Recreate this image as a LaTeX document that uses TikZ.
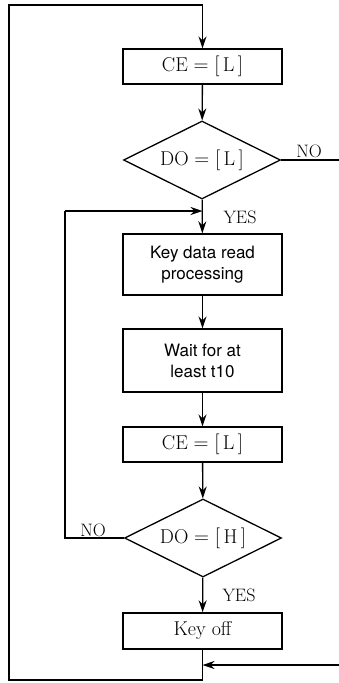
\documentclass[tikz,border=0pt]{standalone}
\usepackage{fontspec}
\usetikzlibrary{shapes.geometric,arrows.meta}
\newfontfamily\helv{TeX Gyre Heros}

\tikzset{
 proc/.style={draw,line width=1.4pt,minimum width=159pt,inner sep=0pt,font=\fontsize{20}{24}\selectfont},
 sproc/.style={proc,align=center,font=\helv\fontsize{17}{21}\selectfont},
 test/.style={draw,diamond,line width=1.3pt,aspect=2,minimum width=157pt,minimum height=78pt,inner sep=0pt,font=\fontsize{20}{24}\selectfont},
 lbl/.style={inner sep=0pt,font=\fontsize{18}{20}\selectfont},
 flow/.style={line width=1.3pt},
 arr/.style={flow,-{Stealth[length=12pt,width=8pt,inset=4pt]}}
}

\begin{document}
\begin{tikzpicture}[x=1pt,y=-1pt]
 \useasboundingbox (0,0) rectangle (339,683);
 \node[proc,minimum height=35pt] (ce1) at (202.5,66.5) {$\mathrm{CE}=[\,\mathrm{L}\,]$};
 \node[test] (do1) at (202,160) {$\mathrm{DO}=[\,\mathrm{L}\,]$};
 \node[sproc,minimum height=61pt] (read) at (202.5,264.5) {Key data read\\processing};
 \node[sproc,minimum height=63pt] (wait) at (202.5,360.5) {Wait for at\\least t10};
 \node[proc,minimum height=35pt] (ce2) at (202.5,444.5) {$\mathrm{CE}=[\,\mathrm{L}\,]$};
 \node[test] (do2) at (203,538) {$\mathrm{DO}=[\,\mathrm{H}\,]$};
 \node[proc,minimum height=36pt] (off) at (202.5,631) {Key off};
 \node[lbl] (no1) at (309,151) {NO};
 \node[lbl] (yes1) at (240,217) {YES};
 \node[lbl] (no2) at (93,530) {NO};
 \node[lbl] (yes2) at (239,595) {YES};
 \coordinate (top) at (202.5,5);
 \coordinate (topl) at (9,5);
 \coordinate (botl) at (9,680);
 \coordinate (bot) at (202.5,680);
 \coordinate (nor) at (339,160);
 \coordinate (back) at (202.5,211);
 \coordinate (backl) at (65,211);
 \coordinate (nol) at (65,538);
 \coordinate (inr) at (339,665);
 \coordinate (in) at (202.5,665);
 \draw[arr] (top) -- (ce1);
 \draw[arr] (ce1) -- (do1);
 \draw[flow] (do1.east) -- (nor);
 \draw[arr] (do1) -- (read);
 \draw[arr] (read) -- (wait);
 \draw[arr] (wait) -- (ce2);
 \draw[arr] (ce2) -- (do2);
 \draw[arr] (do2) -- (off);
 \draw[flow] (do2.west) -- (nol) -- (backl);
 \draw[arr] (backl) -- (back);
 \draw[flow] (off) -- (bot) -- (botl) -- (topl) -- (top);
 \draw[arr] (inr) -- (in);
\end{tikzpicture}
\end{document}
